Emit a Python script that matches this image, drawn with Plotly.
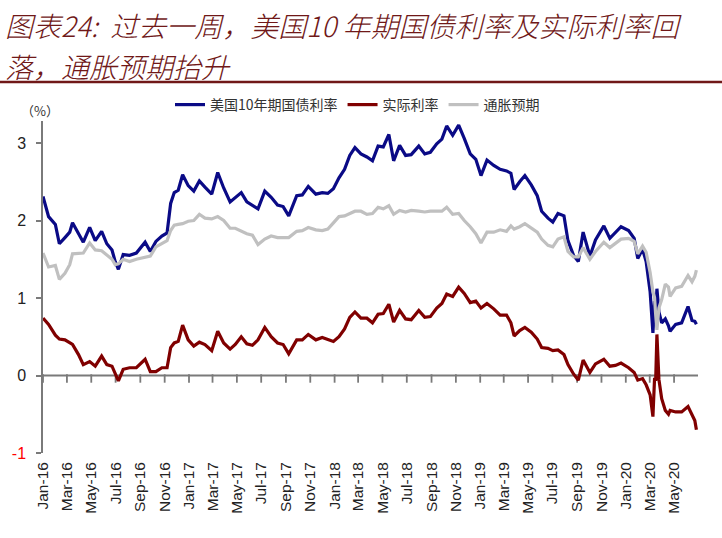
import pandas as pd
import plotly.graph_objects as go

# ---------------- data ----------------
dates = [
    "2016-01-01", "2016-01-15", "2016-02-01", "2016-02-11", "2016-02-25", "2016-03-08", "2016-03-15", "2016-03-30",
    "2016-04-11", "2016-04-27", "2016-05-11", "2016-05-27", "2016-06-09", "2016-06-22", "2016-06-30", "2016-07-08",
    "2016-07-20", "2016-08-05", "2016-08-22", "2016-09-13", "2016-09-26", "2016-10-10", "2016-10-25", "2016-11-07",
    "2016-11-16", "2016-11-25", "2016-12-05", "2016-12-16", "2016-12-30",
    "2017-01-13", "2017-01-27", "2017-02-10", "2017-02-27", "2017-03-14", "2017-03-29", "2017-04-14", "2017-04-27",
    "2017-05-12", "2017-05-26", "2017-06-09", "2017-06-23", "2017-07-10", "2017-07-26", "2017-08-11", "2017-08-25",
    "2017-09-08", "2017-09-28", "2017-10-12", "2017-10-27", "2017-11-15", "2017-12-01", "2017-12-15", "2017-12-29",
    "2018-01-12", "2018-01-26", "2018-02-08", "2018-02-21", "2018-03-08", "2018-03-23", "2018-04-06", "2018-04-20",
    "2018-05-03", "2018-05-17", "2018-05-29", "2018-06-13", "2018-06-28", "2018-07-12", "2018-07-31", "2018-08-15",
    "2018-08-29", "2018-09-14", "2018-09-27", "2018-10-09", "2018-10-24", "2018-11-08", "2018-11-22", "2018-12-07",
    "2018-12-21",
    "2019-01-03", "2019-01-18", "2019-02-04", "2019-02-20", "2019-03-08", "2019-03-19", "2019-03-27", "2019-04-10",
    "2019-04-23", "2019-05-09", "2019-05-24", "2019-06-04", "2019-06-20", "2019-07-02", "2019-07-15", "2019-07-30",
    "2019-08-09", "2019-08-23", "2019-09-04", "2019-09-16", "2019-10-03", "2019-10-17", "2019-11-07", "2019-11-22",
    "2019-12-06", "2019-12-20",
    "2020-01-08", "2020-01-22", "2020-01-31", "2020-02-12", "2020-02-21", "2020-03-02", "2020-03-09", "2020-03-13",
    "2020-03-16", "2020-03-19", "2020-03-24", "2020-03-31", "2020-04-09", "2020-04-17", "2020-04-21", "2020-05-05",
    "2020-05-20", "2020-06-05", "2020-06-15", "2020-06-22", "2020-06-26",
]

us10y = [
    2.31, 2.05, 1.95, 1.70, 1.78, 1.85, 1.97, 1.82, 1.72, 1.91, 1.74, 1.86, 1.70, 1.62, 1.47, 1.37,
    1.56, 1.55, 1.58, 1.72, 1.60, 1.73, 1.80, 1.84, 2.22, 2.36, 2.39, 2.59, 2.45,
    2.38, 2.51, 2.43, 2.34, 2.62, 2.42, 2.24, 2.30, 2.36, 2.24, 2.20, 2.15, 2.38, 2.30, 2.20, 2.18,
    2.06, 2.32, 2.33, 2.44, 2.34, 2.36, 2.35, 2.41,
    2.55, 2.66, 2.84, 2.94, 2.86, 2.82, 2.77, 2.96, 2.95, 3.11, 2.77, 2.97, 2.84, 2.85, 2.96, 2.86,
    2.88, 2.99, 3.05, 3.22, 3.10, 3.23, 3.06, 2.86, 2.79,
    2.58, 2.78, 2.71, 2.66, 2.64, 2.61, 2.40, 2.50, 2.58, 2.46, 2.32, 2.12, 2.03, 1.98, 2.09, 2.06,
    1.74, 1.55, 1.47, 1.85, 1.54, 1.75, 1.93, 1.77, 1.84, 1.92,
    1.87, 1.77, 1.51, 1.63, 1.47, 1.08, 0.55, 0.96, 0.73, 1.12, 0.82, 0.68, 0.73, 0.64, 0.57, 0.66,
    0.68, 0.89, 0.71, 0.70, 0.66,
]

real_rate = [
    0.74, 0.66, 0.52, 0.47, 0.46, 0.42, 0.40, 0.27, 0.14, 0.18, 0.12, 0.25, 0.14, 0.12, 0.02, -0.07,
    0.08, 0.10, 0.10, 0.21, 0.05, 0.05, 0.10, 0.10, 0.36, 0.42, 0.44, 0.65, 0.46,
    0.38, 0.43, 0.40, 0.32, 0.57, 0.42, 0.34, 0.40, 0.50, 0.41, 0.39, 0.46, 0.62, 0.50, 0.42, 0.40,
    0.28, 0.46, 0.46, 0.53, 0.46, 0.49, 0.46, 0.44,
    0.50, 0.60, 0.75, 0.82, 0.74, 0.74, 0.68, 0.79, 0.80, 0.92, 0.69, 0.84, 0.73, 0.72, 0.84, 0.75,
    0.76, 0.87, 0.93, 1.05, 1.02, 1.14, 1.06, 0.94, 0.96,
    0.87, 0.93, 0.86, 0.78, 0.78, 0.68, 0.51, 0.58, 0.62, 0.56, 0.47, 0.36, 0.35, 0.32, 0.33, 0.27,
    0.14, 0.02, -0.06, 0.20, 0.04, 0.15, 0.21, 0.12, 0.13, 0.16,
    0.10, 0.04, -0.06, -0.04, -0.12, -0.25, -0.53, -0.05, -0.05, 0.53, -0.05, -0.30, -0.45, -0.50, -0.45, -0.47,
    -0.47, -0.40, -0.50, -0.58, -0.70,
]

breakeven = [
    1.58, 1.40, 1.42, 1.24, 1.32, 1.43, 1.57, 1.58, 1.58, 1.71, 1.62, 1.61, 1.56, 1.50, 1.43, 1.44,
    1.50, 1.47, 1.50, 1.52, 1.54, 1.66, 1.70, 1.74, 1.87, 1.94, 1.95, 1.96, 1.99,
    2.00, 2.08, 2.03, 2.02, 2.05, 2.00, 1.90, 1.90, 1.86, 1.83, 1.81, 1.69, 1.76, 1.80, 1.78, 1.78,
    1.78, 1.86, 1.87, 1.91, 1.88, 1.87, 1.89, 1.97,
    2.05, 2.06, 2.09, 2.12, 2.12, 2.08, 2.09, 2.17, 2.15, 2.19, 2.08, 2.13, 2.11, 2.13, 2.12, 2.11,
    2.12, 2.12, 2.12, 2.17, 2.08, 2.09, 2.00, 1.92, 1.83,
    1.71, 1.85, 1.85, 1.88, 1.86, 1.93, 1.89, 1.92, 1.96, 1.90, 1.85, 1.76, 1.68, 1.66, 1.76, 1.79,
    1.60, 1.53, 1.53, 1.65, 1.50, 1.60, 1.72, 1.65, 1.71, 1.76,
    1.77, 1.73, 1.57, 1.67, 1.59, 1.33, 1.08, 1.01, 0.78, 0.59, 0.87, 0.98, 1.18, 1.14, 1.02, 1.13,
    1.15, 1.29, 1.21, 1.28, 1.36,
]

series_names = ["美国10年期国债利率", "实际利率", "通胀预期"]
y_tick_vals = [-1, 0, 1, 2, 3]
y_tick_text = ['<span style="color:#FF0000">-1</span>', "0", "1", "2", "3"]
title_lines = ["图表24:  过去一周，美国10 年期国债利率及实际利率回", "落，通胀预期抬升"]
unit_label = "（%）"

# ---------------- layout geometry ----------------
W, H = 722, 538
L, R, T, B = 43, 24, 121, 85
PW, PH = W - L - R, H - T - B
Y_MIN, Y_MAX = -1, 3.284
X_RANGE_LABELS = ["2016-01-01", "2020-06-30"]
X_TICK_START, X_TICK_END = "2016-01-01", "2020-07-01"
TICK_PX = 6
AXIS_GREY = "#7A7A7A"


def px_x(p):
    return (p - L) / PW


def px_y(p):
    return (H - B - p) / PH


units_per_px = (Y_MAX - Y_MIN) / PH
tick_dates = [d.strftime("%Y-%m-%d") for d in pd.date_range(X_TICK_START, X_TICK_END, freq="2MS")]

fig = go.Figure()

# horizontal category axis drawn at value 0, with tick marks every two months hanging below it
fig.add_trace(go.Scatter(x=[X_TICK_START, X_TICK_END], y=[0, 0], mode="lines", showlegend=False,
                         hoverinfo="skip", line=dict(color=AXIS_GREY, width=2), cliponaxis=False))
fig.add_trace(go.Scatter(x=tick_dates, y=[-TICK_PX / 2 * units_per_px] * len(tick_dates), mode="markers",
                         showlegend=False, hoverinfo="skip", cliponaxis=False,
                         marker=dict(symbol="line-ns", size=TICK_PX, color=AXIS_GREY,
                                     line=dict(color=AXIS_GREY, width=1.8))))

colors = ["#0A0A86", "#800000", "#C0C0C0"]
values = [us10y, real_rate, breakeven]
for name, vals, c in zip(series_names, values, colors):
    fig.add_trace(go.Scatter(x=dates, y=vals, mode="lines", name=name,
                             line=dict(color=c, width=3.2)))

fig.update_layout(
    width=W, height=H,
    margin=dict(l=L, r=R, t=T, b=B, pad=0),
    paper_bgcolor="white", plot_bgcolor="white",
    showlegend=True,
    legend=dict(orientation="h", x=px_x(170), y=px_y(105), xanchor="left", yanchor="middle",
                font=dict(family="Noto Sans CJK SC", size=14, color="#333333"),
                itemwidth=30, tracegroupgap=0, bgcolor="rgba(0,0,0,0)"),
    xaxis=dict(type="date", range=X_RANGE_LABELS, showline=False, showgrid=False, zeroline=False,
               ticks="", dtick="M2", tick0="2016-01-01", tickformat="%b-%y", tickangle=-90,
               tickfont=dict(family="Arial, Liberation Sans, sans-serif", size=15.5, color="#222222"),
               ticklabelstandoff=5),
    yaxis=dict(range=[Y_MIN, Y_MAX], tickvals=y_tick_vals, ticktext=y_tick_text,
               showline=True, linecolor=AXIS_GREY, linewidth=1.5, showgrid=False, zeroline=False,
               ticks="outside", ticklen=5, tickcolor=AXIS_GREY, tickwidth=1.5,
               tickfont=dict(family="Arial, Liberation Sans, sans-serif", size=16, color="#222222"),
               ticklabelstandoff=7),
    font=dict(family="Noto Sans CJK SC"),
)

title_font = dict(family="Noto Sans CJK SC", size=28, color="#701818", style="italic", weight=300)
for txt, cy in zip(title_lines, [25, 66]):
    fig.add_annotation(text=txt, xref="paper", yref="paper", x=px_x(3), y=px_y(cy),
                       xanchor="left", yanchor="middle", align="left", showarrow=False, font=title_font)
fig.add_annotation(text=unit_label, xref="paper", yref="paper", x=px_x(40), y=px_y(110),
                   xanchor="center", yanchor="middle", showarrow=False,
                   font=dict(family="Noto Sans CJK SC", size=13, color="#333333"))
fig.add_shape(type="line", xref="paper", yref="paper", x0=px_x(0), x1=px_x(W), y0=px_y(82), y1=px_y(82),
              line=dict(color="#701818", width=2.5))

fig.write_html("out.html")
